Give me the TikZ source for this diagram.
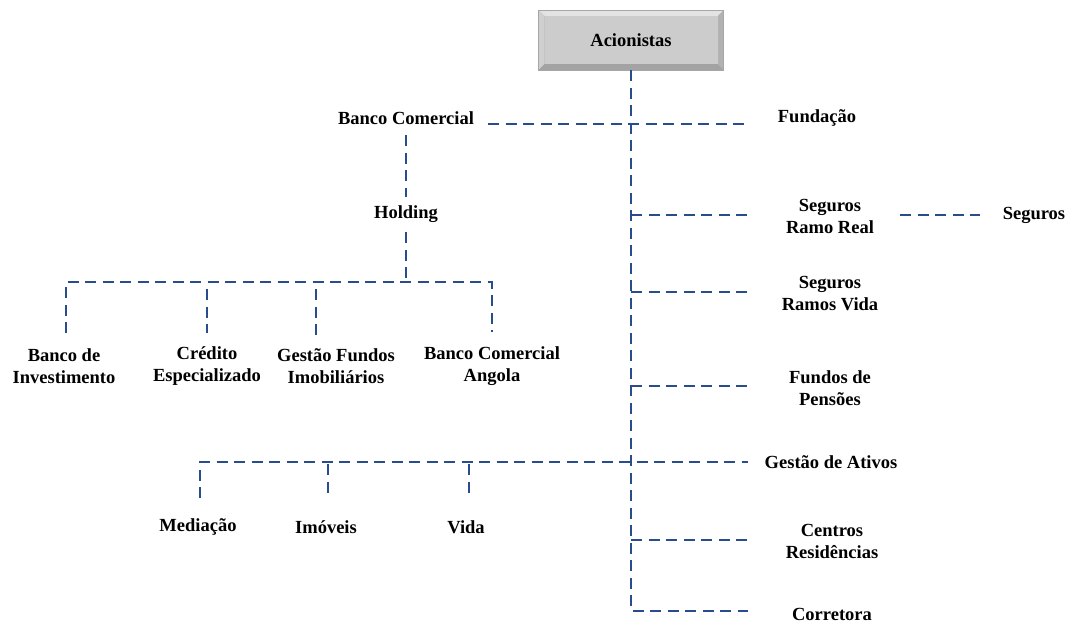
\documentclass[tikz,border=0pt]{standalone}
\usepackage{fontspec}
\setmainfont{Liberation Serif}
\definecolor{linkblue}{RGB}{40,76,140}
\definecolor{boxface}{RGB}{204,204,204}
\begin{document}
\begin{tikzpicture}[x=1pt,y=-1pt,
  lbl/.style={font=\fontsize{18.5}{22}\selectfont\bfseries, align=center, inner sep=0pt},
  conn/.style={draw=linkblue, line width=2.8pt, dash pattern=on 11pt off 6.5pt},
  bevelbox/.style={lbl, minimum width=185pt, minimum height=60pt,
    path picture={
      \fill[gray!60] (path picture bounding box.north west) rectangle (path picture bounding box.south east);
      \fill[gray!22] (path picture bounding box.north west) -- (path picture bounding box.north east)
        -- ([xshift=-6pt,yshift=-6pt]path picture bounding box.north east)
        -- ([xshift=6pt,yshift=-6pt]path picture bounding box.north west) -- cycle;
      \fill[gray!38] (path picture bounding box.north west) -- ([xshift=6pt,yshift=-6pt]path picture bounding box.north west)
        -- ([xshift=6pt,yshift=6pt]path picture bounding box.south west) -- (path picture bounding box.south west) -- cycle;
      \fill[gray!72] (path picture bounding box.south west) -- (path picture bounding box.south east)
        -- ([xshift=-6pt,yshift=6pt]path picture bounding box.south east)
        -- ([xshift=6pt,yshift=6pt]path picture bounding box.south west) -- cycle;
      \fill[boxface] ([xshift=6pt,yshift=-6pt]path picture bounding box.north west)
        rectangle ([xshift=-6pt,yshift=6pt]path picture bounding box.south east);
    },
    draw=gray!70, line width=0.6pt},
]
\useasboundingbox (0,0) rectangle (1069,624);

% top of the chart
\node[bevelbox] (acion) at (631,40) {Acionistas};

% text nodes
\node[lbl] (bc)   at (406,118) {Banco Comercial};
\node[lbl] (fund) at (817,118) {Fundação};
\node[lbl] (hold) at (406,214) {Holding};
\node[lbl] (bi)   at (64,366)  {Banco de\\Investimento};
\node[lbl] (cred) at (207,366) {Crédito\\Especializado};
\node[lbl] (gfi)  at (336,366) {Gestão Fundos\\Imobiliários};
\node[lbl] (bca)  at (492,366) {Banco Comercial\\Angola};
\node[lbl] (srr)  at (830,216) {Seguros\\Ramo Real};
\node[lbl] (seg)  at (1034,215) {Seguros};
\node[lbl] (srv)  at (830,294) {Seguros\\Ramos Vida};
\node[lbl] (fp)   at (830,388) {Fundos de\\Pensões};
\node[lbl] (ga)   at (831,462) {Gestão de Ativos};
\node[lbl] (med)  at (198,527) {Mediação};
\node[lbl] (imo)  at (326,527) {Imóveis};
\node[lbl] (vida) at (466,527) {Vida};
\node[lbl] (cr)   at (832,541) {Centros\\Residências};
\node[lbl] (corr) at (832,614) {Corretora};

% connector end points
\coordinate (bcR)    at (488,124);
\coordinate (fundL)  at (748,124);
\coordinate (bcV1)   at (406,135);
\coordinate (bcV2)   at (406,197);
\coordinate (hV1)    at (406,232);
\coordinate (hJ)     at (406,282);
\coordinate (biTop)  at (66,282);
\coordinate (biEnd)  at (66,333);
\coordinate (bcaTop) at (492,282);
\coordinate (bcaEnd) at (492,332);
\coordinate (credTop) at (207,289);
\coordinate (credEnd) at (207,333);
\coordinate (gfiTop) at (316,289);
\coordinate (gfiEnd) at (316,335);
\coordinate (trJ1)   at (631,215);
\coordinate (srrL)   at (748,215);
\coordinate (srrR)   at (900,215);
\coordinate (segL)   at (980,215);
\coordinate (trJ2)   at (631,292);
\coordinate (srvL)   at (748,292);
\coordinate (trJ3)   at (631,386);
\coordinate (fpL)    at (748,386);
\coordinate (gaL)    at (748,462);
\coordinate (medTop) at (200,462);
\coordinate (medEnd) at (200,498);
\coordinate (imoTop) at (328,464);
\coordinate (imoEnd) at (328,498);
\coordinate (vidaTop) at (469,464);
\coordinate (vidaEnd) at (469,498);
\coordinate (trJ4)   at (631,540);
\coordinate (crL)    at (748,540);
\coordinate (corrL)  at (748,611);

% main trunk ending at Corretora
\draw[conn] (acion.south) |- (corrL);

% branches
\draw[conn] (bcR) -- (fundL);
\draw[conn] (bcV1) -- (bcV2);
\draw[conn] (hV1) -- (hJ);
\draw[conn] (biEnd) -- (biTop) -- (bcaTop) -- (bcaEnd);
\draw[conn] (credTop) -- (credEnd);
\draw[conn] (gfiTop) -- (gfiEnd);
\draw[conn] (trJ1) -- (srrL);
\draw[conn] (srrR) -- (segL);
\draw[conn] (trJ2) -- (srvL);
\draw[conn] (trJ3) -- (fpL);
\draw[conn] (medEnd) -- (medTop) -- (gaL);
\draw[conn] (imoTop) -- (imoEnd);
\draw[conn] (vidaTop) -- (vidaEnd);
\draw[conn] (trJ4) -- (crL);
\end{tikzpicture}
\end{document}
